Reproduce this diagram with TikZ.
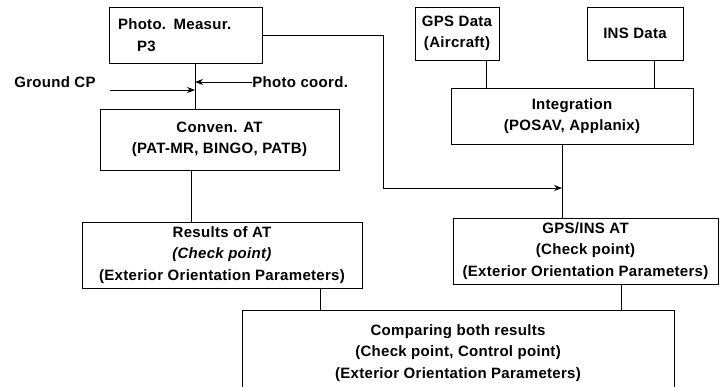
\documentclass[tikz,border=0pt]{standalone}
\usepackage{fontspec}
\setmainfont{Liberation Sans}[LetterSpace=2]
\usepackage{tikz}
\usetikzlibrary{arrows.meta}

\begin{document}
\begin{tikzpicture}[x=1pt, y=-1pt, >={Stealth[length=8pt,width=6pt]}, line width=0.9pt, every node/.style={font=\fontsize{15}{21.5}\selectfont\bfseries}]
\tikzstyle{block}=[rectangle, draw, line width=0.9pt, align=center, inner sep=0pt]
\useasboundingbox (0,0) rectangle (720,387);
\node[block, align=left, text width=135pt, minimum width=153pt, minimum height=56pt] (photo) at (185.5,35) {Photo. Measur.\\\hspace*{19pt}P3};
\node[block, minimum width=239pt, minimum height=61pt] (conven) at (219.5,139.5) {Conven. AT\\(PAT-MR, BINGO, PATB)};
\node[block, minimum width=280pt, minimum height=66pt] (results) at (222,255) {Results of AT\\\textit{(Check point)}\\(Exterior Orientation Parameters)};
\node[block, minimum width=84pt, minimum height=53pt] (gps) at (457,33.5) {GPS Data\\(Aircraft)};
\node[block, minimum width=96pt, minimum height=53pt] (ins) at (635,33.5) {INS Data};
\node[block, minimum width=242pt, minimum height=56pt] (integ) at (572,116) {Integration\\(POSAV, Applanix)};
\node[block, minimum width=265pt, minimum height=66pt] (gpsins) at (585.5,251) {GPS/INS AT\\(Check point)\\(Exterior Orientation Parameters)};
\node[block, minimum width=432pt, minimum height=86pt] (compare) at (458,353) {Comparing both results\\(Check point, Control point)\\(Exterior Orientation Parameters)};
\node (gcp) at (55,82) {Ground CP};
\node[anchor=west, inner sep=0pt] (pcoord) at (252,82) {Photo coord.};
\coordinate (spine) at (195,0);
\coordinate (gcpstart) at (110,90);
\coordinate (bend) at (383,188);
\coordinate (drop) at (562,0);
\draw (photo.south -| spine) -- (conven.north -| spine);
\draw[->] (gcpstart) -- (gcpstart -| spine);
\draw[->] (pcoord.west) -- (pcoord.west -| spine);
\draw[->] (photo.east) -| (bend) -- (bend -| drop);
\draw ([xshift=29pt]gps.south) -- ([xshift=29pt]gps.south |- integ.north);
\draw ([xshift=19pt]ins.south) -- ([xshift=19pt]ins.south |- integ.north);
\draw (integ.south -| drop) -- (gpsins.north -| drop);
\draw ([xshift=-28.5pt]conven.south) -- ([xshift=-28.5pt]conven.south |- results.north);
\draw ([xshift=98pt]results.south) -- ([xshift=98pt]results.south |- compare.north);
\draw ([xshift=35.5pt]gpsins.south) -- ([xshift=35.5pt]gpsins.south |- compare.north);
\end{tikzpicture}
\end{document}
